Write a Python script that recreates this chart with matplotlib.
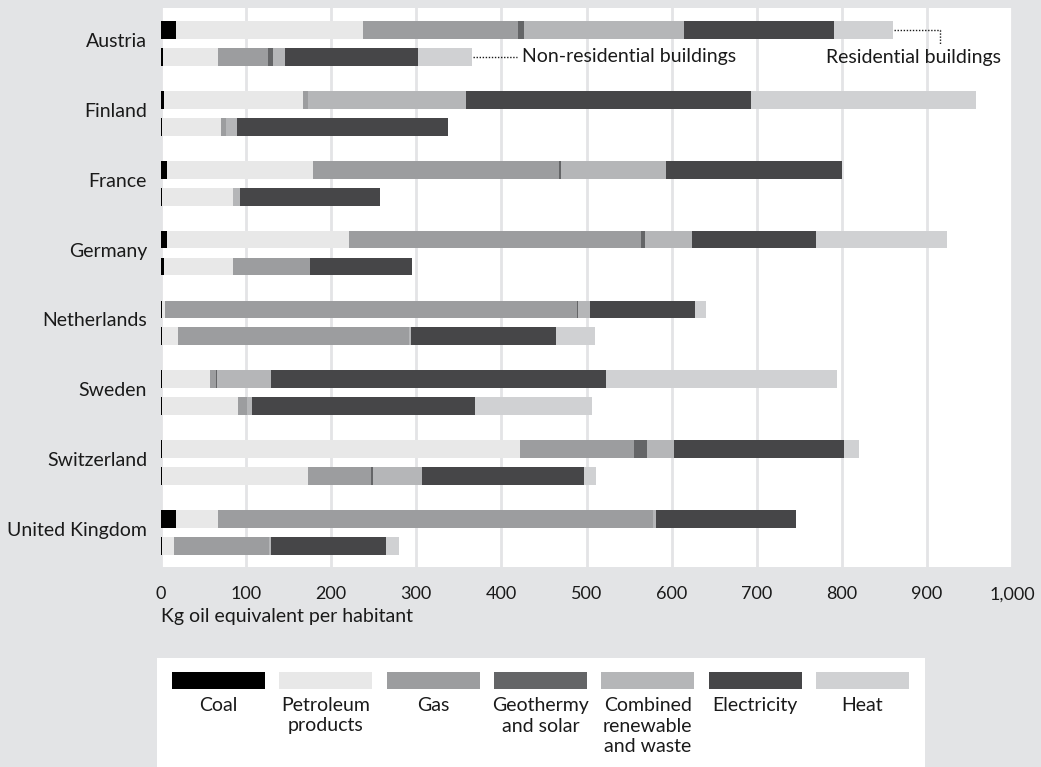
import matplotlib
matplotlib.use("Agg")
import matplotlib.pyplot as plt
from matplotlib.patches import Rectangle
import numpy as np

plt.rcParams['font.family'] = ['Lato', 'DejaVu Sans']
plt.rcParams['font.size'] = 14

countries = ['Austria', 'Finland', 'France', 'Germany',
             'Netherlands', 'Sweden', 'Switzerland', 'United Kingdom']
sources = ['Coal', 'Petroleum\nproducts', 'Gas', 'Geothermy\nand solar',
           'Combined\nrenewable\nand waste', 'Electricity', 'Heat']
colors = ['#000000', '#e8e8e8', '#9c9d9f', '#646567', '#b5b6b8', '#464648', '#d0d1d3']

# kg oil equivalent per habitant, residential buildings
res_coal = [18, 3.5, 7.5, 7.5, 1.5, 0.8, 1, 18]
res_petroleum = [219, 163, 171, 214, 3.5, 57, 421, 49]
res_gas = [183, 6, 289, 343, 484, 7, 134, 511]
res_geothermy = [6, 0, 2.3, 4.7, 1, 1.2, 15, 0]
res_combined = [189, 186, 124, 55, 14, 63, 32, 3.5]
res_electricity = [176, 335, 207, 146, 123, 394, 199, 165]
res_heat = [69, 264, 0, 154, 13, 271, 18, 0]

# non-residential buildings
non_coal = [2, 0.8, 0.8, 3.5, 0.8, 0.8, 0.8, 1.5]
non_petroleum = [65, 70, 84, 81, 19.6, 90, 172, 14]
non_gas = [59, 6, 0, 91, 271, 10.5, 74, 111]
non_geothermy = [6, 0, 0, 0, 0, 0, 2.3, 0]
non_combined = [14, 13, 8, 0, 2.3, 6, 58, 2.4]
non_electricity = [156, 248, 164, 120, 171, 262, 190, 136]
non_heat = [64, 0, 0, 0, 45.5, 137, 14, 15]

residential = [res_coal, res_petroleum, res_gas, res_geothermy,
               res_combined, res_electricity, res_heat]
non_residential = [non_coal, non_petroleum, non_gas, non_geothermy,
                   non_combined, non_electricity, non_heat]

W, H = 1041, 767
bg = '#e3e4e6'
ink = '#1a1a1a'
fig = plt.figure(figsize=(W / 100, H / 100), dpi=100, facecolor=bg)


def fx(px):
    return px / W


def fy(py):
    return 1 - py / H


ax = fig.add_axes([fx(161), fy(567), fx(1012) - fx(161), fy(8) - fy(567)])
ax.set_facecolor('white')

y = np.arange(len(countries))
off = 0.193
bh = 0.255

for vals, y_pos in [(residential, y - off), (non_residential, y + off)]:
    left = np.zeros(len(countries))
    for v, c in zip(vals, colors):
        v = np.array(v, dtype=float)
        ax.barh(y_pos, v, left=left, height=bh, color=c, linewidth=0, zorder=3)
        left += v

ax.set_xlim(0, 1000)
ax.set_ylim(7.494, -0.508)
ax.set_xticks(np.arange(0, 1001, 100))
ax.set_xticklabels(['0', '100', '200', '300', '400', '500', '600', '700',
                    '800', '900', '1,000'], fontsize=13)
ax.set_yticks(y - 0.05)
ax.set_yticklabels(countries, fontsize=14)
ax.tick_params(axis='both', length=0, colors=ink)
ax.tick_params(axis='y', pad=10)
ax.tick_params(axis='x', pad=14)
ax.grid(axis='x', color=bg, linewidth=2, zorder=1)
for s in ax.spines.values():
    s.set_visible(False)

ax.set_xlabel('Kg oil equivalent per habitant', fontsize=14, color=ink)
ax.xaxis.set_label_coords(0, -0.073)
ax.xaxis.label.set_horizontalalignment('left')

# annotations on Austria
dot = dict(color=ink, linewidth=1, linestyle=(0, (1, 1.2)), zorder=4)
non_end = sum(v[0] for v in non_residential)
ax.plot([non_end + 1, 418.7], [off, off], **dot)
ax.text(424.6, off, 'Non-residential buildings', va='center', ha='left',
        fontsize=14, color=ink)
res_end = sum(v[0] for v in residential)
ax.plot([res_end + 1, 915.5, 915.5], [-off, -off, 0.02], clip_on=False, **dot)
ax.text(782, off + 0.01, 'Residential buildings', va='center', ha='left',
        fontsize=14, color=ink, clip_on=False)

# legend box
fig.patches.append(Rectangle((fx(157), fy(767)), fx(925) - fx(157), fy(658) - fy(767),
                             transform=fig.transFigure, facecolor='white',
                             edgecolor='none', zorder=0))
for i, (lab, c) in enumerate(zip(sources, colors)):
    x0 = 172 + i * 107.3
    fig.patches.append(Rectangle((fx(x0), fy(689)), fx(93), fy(672) - fy(689),
                                 transform=fig.transFigure, facecolor=c,
                                 edgecolor='none', zorder=1))
    fig.text(fx(x0 + 46.5), fy(697), lab, ha='center', va='top', fontsize=14,
             color=ink, linespacing=1.25)

fig.savefig('out.png', dpi=100, facecolor=bg)
